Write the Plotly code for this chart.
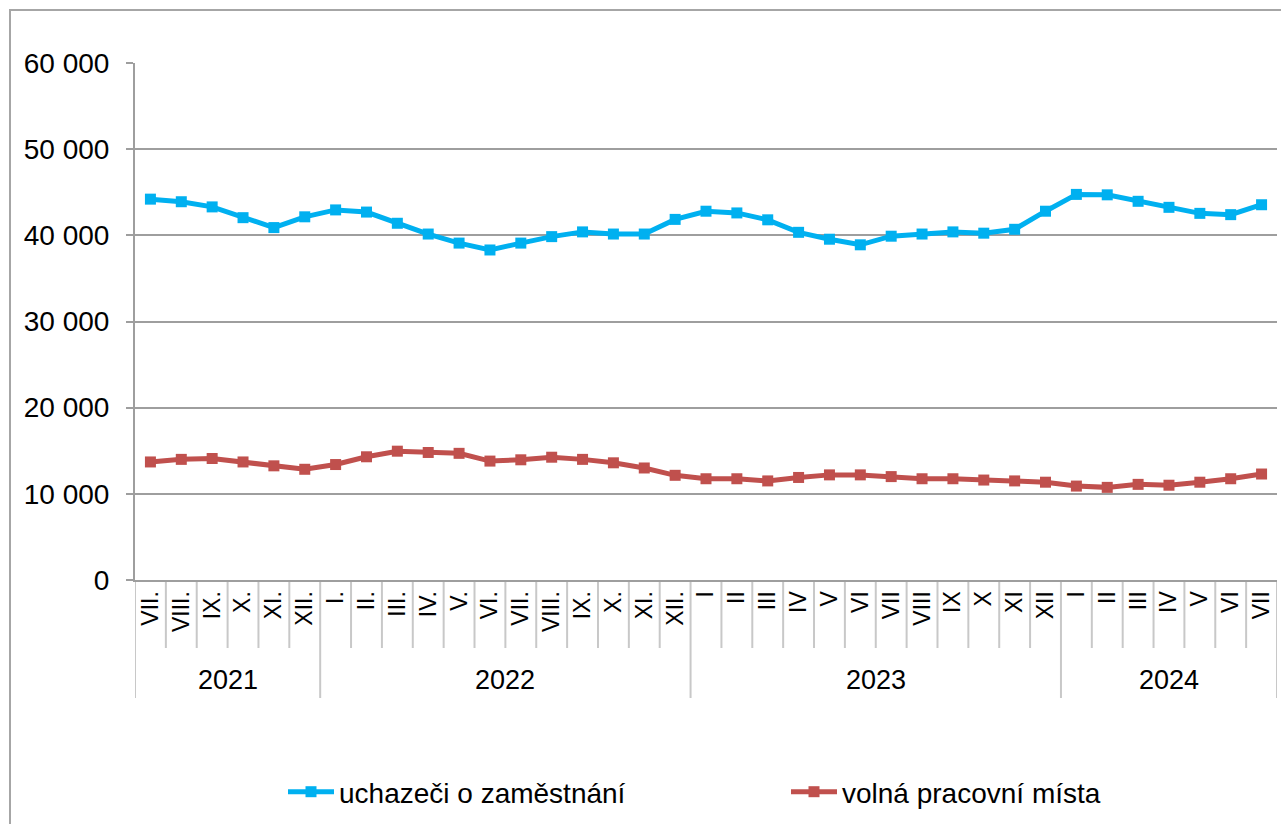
import plotly.graph_objects as go

# ---- data ----
years = ["2021", "2022", "2023", "2024"]
months_2021 = ["VII.", "VIII.", "IX.", "X.", "XI.", "XII."]
months_2022 = ["I.", "II.", "III.", "IV.", "V.", "VI.", "VII.", "VIII.", "IX.", "X.", "XI.", "XII."]
months_2023 = ["I", "II", "III", "IV", "V", "VI", "VII", "VIII", "IX", "X", "XI", "XII"]
months_2024 = ["I", "II", "III", "IV", "V", "VI", "VII"]

uchazeci = [44200, 43900, 43300, 42050, 40900, 42150,
            42950, 42700, 41400, 40150, 39100, 38300, 39100, 39850, 40400, 40150, 40150, 41850,
            42800, 42600, 41800, 40350, 39550, 38900, 39900, 40150, 40400, 40250, 40700, 42800,
            44750, 44700, 43950, 43250, 42550, 42400, 43550]
volna_mista = [13700, 14000, 14100, 13700, 13250, 12850,
               13400, 14300, 14950, 14800, 14700, 13800, 13950, 14250, 14000, 13600, 13000, 12150,
               11750, 11750, 11500, 11900, 12200, 12200, 12000, 11750, 11750, 11600, 11500, 11350,
               10900, 10750, 11100, 11000, 11350, 11750, 12300]

month_groups = [months_2021, months_2022, months_2023, months_2024]
month_labels = [m for g in month_groups for m in g]
x = list(range(len(month_labels)))

FONT = "Liberation Sans, Arial, sans-serif"
GRID = "#9E9E9E"
SEP = "#C8C8C8"

fig = go.Figure()
fig.add_trace(go.Scatter(
    x=x, y=uchazeci, name="uchazeči o zaměstnání", mode="lines+markers",
    line=dict(color="#00B0F0", width=5),
    marker=dict(symbol="square", size=11, color="#00B0F0")))
fig.add_trace(go.Scatter(
    x=x, y=volna_mista, name="volná pracovní místa", mode="lines+markers",
    line=dict(color="#C0504D", width=5),
    marker=dict(symbol="square", size=11, color="#C0504D")))

W, H = 1281, 824
L, R, T, B = 135, 4, 63, 244
pw, ph = W - L - R, H - T - B

def py(pix):
    return (H - B - pix) / ph

def px(pix):
    return (pix - L) / pw

shapes = []
n = len(month_labels)
year_bounds = [0]
for g in month_groups:
    year_bounds.append(year_bounds[-1] + len(g))
for i in range(n + 1):
    long_ = i in year_bounds
    shapes.append(dict(type="line", xref="x", yref="paper",
                       x0=i - 0.5, x1=i - 0.5, y0=0, y1=py(698 if long_ else 648),
                       line=dict(color=SEP, width=2), layer="below"))
# outer chart border
shapes.append(dict(type="rect", xref="paper", yref="paper",
                   x0=px(10), x1=px(1300), y0=py(840), y1=py(10),
                   line=dict(color="#A6A6A6", width=2), fillcolor="rgba(0,0,0,0)"))

annotations = []
for yr, a, b in zip(years, year_bounds[:-1], year_bounds[1:]):
    annotations.append(dict(x=(a + b - 1) / 2, xref="x", y=py(680), yref="paper",
                            text=yr, showarrow=False, xanchor="center", yanchor="middle",
                            font=dict(family=FONT, size=27, color="black")))

fig.update_layout(
    width=W, height=H,
    margin=dict(l=L, r=R, t=T, b=B, autoexpand=False),
    paper_bgcolor="white", plot_bgcolor="white",
    separators=". ",
    font=dict(family=FONT, color="black"),
    shapes=shapes, annotations=annotations,
    showlegend=True,
    legend=dict(orientation="h", x=px(283), xanchor="left", y=py(792), yanchor="middle",
                font=dict(family=FONT, size=28, color="black"),
                entrywidth=442, itemwidth=46, bgcolor="rgba(0,0,0,0)"),
    xaxis=dict(range=[-0.5, n - 0.5], tickmode="array", tickvals=x, ticktext=month_labels,
               tickangle=-90, tickfont=dict(family=FONT, size=23, color="black"),
               showgrid=False, zeroline=False, showline=True, linecolor=GRID, linewidth=2,
               ticks="", fixedrange=True),
    yaxis=dict(range=[0, 60000], dtick=10000, tickformat=",d",
               tickfont=dict(family=FONT, size=28, color="black"),
               showgrid=True, gridcolor=GRID, gridwidth=2, zeroline=False,
               showline=True, linecolor=GRID, linewidth=2,
               ticks="outside", ticklen=7, tickcolor=GRID, tickwidth=2,
               ticklabelstandoff=11),
)

fig.write_html("out.html", config={"displayModeBar": False},
               post_script="document.body.style.margin='0';document.body.style.overflow='hidden';")
